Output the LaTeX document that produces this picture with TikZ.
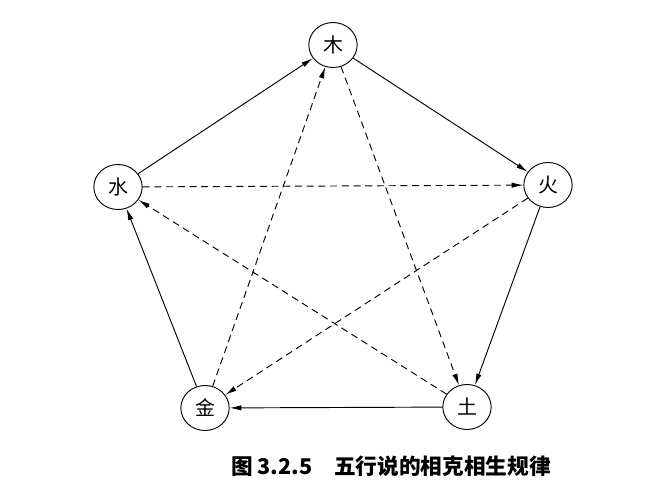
\documentclass[tikz,border=0pt]{standalone}
\usepackage{fontspec}
\newfontfamily\cjk{Noto Sans CJK SC}
\usetikzlibrary{arrows.meta,shapes.geometric}
\tikzset{elem/.style={draw, thick, ellipse, minimum width=1.45cm, minimum height=1.35cm, inner sep=0pt, font=\cjk\fontsize{17}{17}\selectfont},
   sheng/.style={thick, -{Latex[length=3.5mm,width=1.6mm]}},
   ke/.style={thick, dashed, dash pattern=on 6pt off 4pt, -{Latex[length=3.5mm,width=1.6mm]}}}

\begin{document}
\begin{tikzpicture}[x=0.03cm, y=-0.03cm]
\useasboundingbox (0,0) rectangle (666,500);
\node[elem] (mu) at (333,45) {木};
\node[elem] (huo) at (548,185) {火};
\node[elem] (tu) at (467,407) {土};
\node[elem] (jin) at (205,408) {金};
\node[elem] (shui) at (118,187) {水};

\draw[sheng] (mu)--(huo);
\draw[sheng] (huo)--(tu);
\draw[sheng] (tu)--(jin);
\draw[sheng] (jin)--(shui);
\draw[sheng] (shui)--(mu);

\draw[ke] (mu)--(tu);
\draw[ke] (tu)--(shui);
\draw[ke] (shui)--(huo);
\draw[ke] (huo)--(jin);
\draw[ke] (jin)--(mu);

\node[font=\cjk\bfseries\fontsize{18.5}{18.5}\selectfont] (cap) at (391,466) {图 3.2.5\quad 五行说的相克相生规律};
\end{tikzpicture}
\end{document}
